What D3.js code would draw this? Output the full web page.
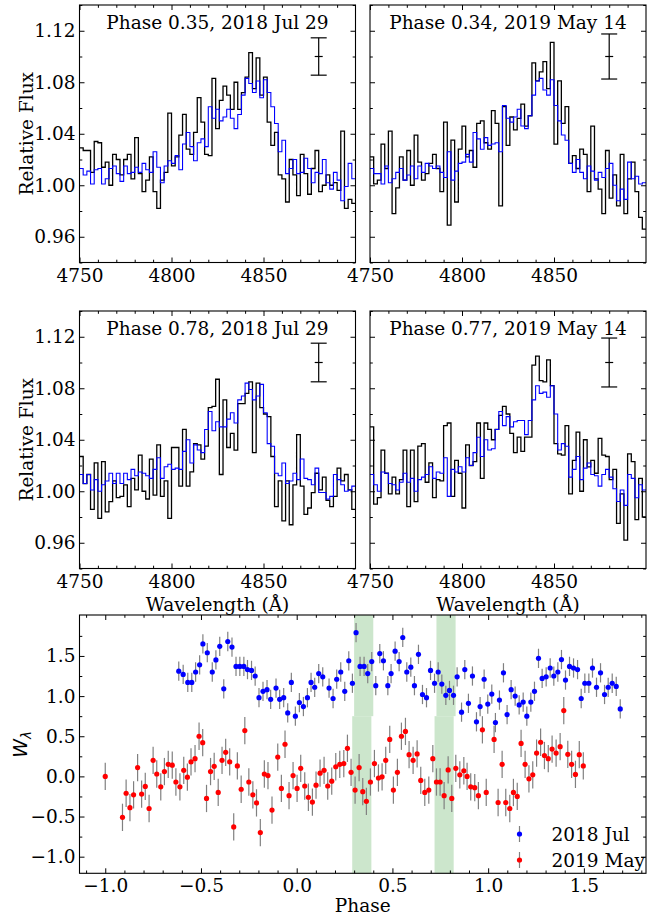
<!DOCTYPE html>
<html>
<head>
<meta charset="utf-8">
<script src="https://cdn.jsdelivr.net/npm/d3@7"></script>
<style>
  body { margin: 0; background: #fff; }
  svg { display: block; }
  svg text { font-family: "DejaVu Serif", serif !important; fill: #000; }
  svg text.math { font-family: "DejaVu Sans", sans-serif !important; font-style: italic; }
</style>
</head>
<body>
<svg id="chart" width="665" height="916"></svg>
<script>
// spectra: 2 A bins starting at 4750 A
const waveStart = 4750;
const waveStep = 2;

// Phase 0.35, 2018 Jul 29
const obsJul35 = [1.029,1.027,1.027,1.010,1.034,1.033,1.014,1.018,1.000,1.024,
  1.020,1.008,1.020,1.024,1.005,1.037,1.009,0.995,1.004,1.022,
  0.995,0.982,1.004,1.010,1.056,1.015,1.022,1.039,1.055,1.028,
  1.024,1.041,1.068,1.049,1.024,1.023,1.083,1.044,1.066,1.077,
  1.070,1.059,1.080,1.059,1.072,1.084,1.103,1.075,1.099,1.070,
  1.084,1.049,1.031,1.041,1.008,1.005,0.987,1.020,1.008,0.992,
  1.024,1.009,0.993,1.013,1.027,0.995,1.000,1.008,1.000,1.002,
  0.996,1.042,0.982,0.989,0.986];
const modelJul35 = [1.013,1.008,1.011,1.001,1.012,1.013,1.001,1.005,1.013,1.015,
  1.009,1.003,1.015,1.009,1.010,1.014,1.010,1.017,1.012,1.010,
  1.026,1.014,1.002,1.015,1.019,1.017,1.023,1.012,1.032,1.041,
  1.030,1.019,1.033,1.036,1.030,1.061,1.052,1.059,1.050,1.053,
  1.059,1.052,1.044,1.055,1.070,1.083,1.079,1.072,1.081,1.068,
  1.082,1.072,1.061,1.048,1.026,1.035,1.009,1.013,1.020,1.009,
  1.010,1.021,1.013,1.002,1.010,1.009,1.020,1.002,0.997,1.010,
  1.004,0.988,0.999,1.017,1.005];

// Phase 0.34, 2019 May 14
const obsMay34 = [1.022,1.001,1.004,1.032,1.013,1.042,0.978,0.998,1.022,1.004,
  1.027,1.000,1.039,1.018,1.004,1.009,1.017,1.024,1.013,0.995,
  1.049,0.969,1.035,0.987,1.028,1.046,1.022,1.027,1.014,1.048,
  1.050,1.033,1.028,1.058,1.048,0.984,1.061,1.031,1.053,1.043,
  1.052,1.063,1.046,1.054,1.095,1.081,1.088,1.096,1.075,1.111,
  1.032,1.081,1.048,1.061,1.017,1.023,1.013,1.028,1.024,0.995,
  1.046,1.005,0.997,0.978,1.027,0.990,1.008,0.984,1.024,0.978,
  1.005,1.018,0.995,0.975,0.966];
const modelMay34 = [1.013,1.009,1.009,1.001,1.015,1.002,1.005,1.010,1.013,1.004,
  1.008,1.015,1.005,1.015,1.010,1.017,1.015,1.013,1.015,1.010,
  1.006,1.026,1.004,1.011,1.017,1.018,1.024,1.018,1.041,1.036,
  1.028,1.037,1.031,1.032,1.033,1.026,1.062,1.052,1.049,1.053,
  1.059,1.046,1.044,1.054,1.070,1.081,1.083,1.074,1.070,1.082,
  1.062,1.050,1.039,1.035,1.017,1.010,1.020,1.010,1.005,1.015,
  1.011,1.004,1.010,1.006,1.013,1.017,1.000,0.988,0.997,0.989,
  1.018,1.005,1.007,1.001,1.002];

// Phase 0.78, 2018 Jul 29
const obsJul78 = [1.027,1.006,1.013,0.986,1.022,0.979,1.023,0.984,0.992,1.008,
  0.995,0.996,1.005,0.988,1.010,1.001,1.028,1.000,0.994,1.025,
  0.997,1.036,0.996,1.008,0.979,1.034,1.034,1.004,1.048,1.004,
  1.015,1.037,1.036,1.025,1.035,1.065,1.066,1.087,1.013,1.071,
  1.034,1.045,1.032,1.068,1.068,1.076,1.085,1.030,1.084,1.065,
  1.060,1.058,1.027,0.988,1.008,0.977,1.008,0.974,1.005,1.044,
  1.004,0.982,0.987,0.999,1.014,1.001,1.011,0.993,0.988,0.996,
  1.018,1.008,1.013,1.001,0.986];
const modelJul78 = [1.013,1.006,1.013,1.001,1.009,1.000,1.005,1.008,1.014,1.006,
  1.014,1.006,1.014,1.009,1.017,1.012,1.015,1.014,1.012,1.010,
  1.017,1.026,1.010,1.019,1.021,1.017,1.018,1.017,1.031,1.040,
  1.022,1.036,1.032,1.030,1.048,1.062,1.047,1.054,1.050,1.050,
  1.056,1.061,1.053,1.071,1.074,1.084,1.079,1.071,1.074,1.083,
  1.061,1.037,1.035,1.014,1.012,1.022,1.006,1.008,1.014,1.009,
  1.025,1.010,1.009,1.005,1.018,0.999,0.999,0.994,0.996,1.013,
  1.009,1.005,1.000,1.001,1.004];

// Phase 0.77, 2019 May 14
const obsMay77 = [1.050,0.990,0.995,1.032,1.014,0.998,1.011,0.998,1.009,1.032,
  0.988,1.032,0.992,1.035,1.037,1.007,1.022,0.995,1.009,1.008,
  1.051,1.053,0.996,1.024,1.014,0.987,1.036,1.020,1.023,1.053,
  1.010,1.053,1.048,1.040,1.048,1.059,1.066,1.060,1.045,1.030,
  1.042,1.031,1.042,1.042,1.098,1.105,1.086,1.085,1.102,1.082,
  1.037,1.029,1.028,1.051,0.998,1.024,1.046,1.000,1.040,1.019,
  1.024,1.014,1.041,1.028,1.027,1.009,1.017,0.975,0.998,0.962,
  1.029,1.023,0.978,1.010,0.980];
const modelMay77 = [1.013,1.005,1.000,1.015,1.014,1.006,1.005,1.001,1.007,1.014,
  1.007,1.010,1.000,1.009,1.011,1.013,1.019,1.010,1.015,1.014,
  1.026,0.996,1.017,1.015,1.019,1.015,1.026,1.020,1.030,1.042,
  1.027,1.040,1.032,1.033,1.048,1.062,1.051,1.058,1.050,1.054,
  1.055,1.055,1.044,1.055,1.071,1.082,1.076,1.077,1.073,1.082,
  1.060,1.032,1.037,1.035,1.011,1.017,1.027,1.009,1.018,1.022,
  1.013,1.012,1.004,1.013,1.017,1.011,1.002,0.992,1.001,0.989,
  1.013,1.010,0.995,1.005,1.001];

const panelTitles = ["Phase 0.35, 2018 Jul 29", "Phase 0.34, 2019 May 14",
                     "Phase 0.78, 2018 Jul 29", "Phase 0.77, 2019 May 14"];
const noiseBar = [0.0145, 0.0175, 0.015, 0.019];   // typical flux error, drawn at 4880 A
const noiseBarWave = 4880;
const noiseBarFlux = 1.10;

const waveTicks = [4750, 4800, 4850];
const fluxTicks = [0.96, 1.00, 1.04, 1.08, 1.12];

// equivalent widths vs phase
const phaseJul = [-0.616,-0.593,-0.569,-0.548,-0.528,-0.507,-0.490,-0.467,-0.441,-0.422,
  -0.402,-0.381,-0.360,-0.338,-0.317,-0.297,-0.276,-0.257,-0.236,-0.217,
  -0.197,-0.176,-0.155,-0.136,-0.108,-0.089,-0.068,-0.047,-0.028,-0.007,
  0.014,0.035,0.056,0.075,0.094,0.115,0.136,0.169,0.190,0.209,
  0.230,0.251,0.272,0.291,0.310,0.331,0.352,0.371,0.392,0.413,
  0.434,0.453,0.476,0.493,0.514,0.535,0.554,0.575,0.596,0.615,
  0.636,0.657,0.678,0.699,0.720,0.739,0.758,0.779,0.798,0.819,
  0.838,0.861,0.878,0.897,0.918,0.939,0.958,0.979,0.998,1.019,
  1.038,1.059,1.080,1.099,1.120,1.141,1.162,1.183,1.202,1.223,
  1.242,1.263,1.282,1.303,1.324,1.343,1.364,1.383,1.404,1.425,
  1.446,1.467,1.486,1.505,1.526,1.545,1.566,1.587,1.608,1.627,
  1.648,1.669,1.690];
const ewJul = [1.31,1.27,1.17,1.17,1.30,1.39,1.65,1.54,1.30,1.45,
  1.62,1.09,1.68,1.61,1.37,1.37,1.37,1.33,1.32,1.25,
  0.98,1.06,1.08,0.96,1.10,0.96,0.98,0.79,1.17,0.75,
  0.92,0.87,0.98,1.17,1.11,1.28,1.24,1.10,0.97,1.21,
  1.30,1.06,1.44,1.16,1.79,1.37,1.37,1.28,1.43,1.13,
  1.53,1.44,1.13,1.28,1.56,1.43,1.73,1.30,1.36,1.13,
  1.52,1.02,0.98,1.32,1.16,1.30,1.15,1.01,1.07,1.01,
  1.24,0.80,1.33,0.91,1.25,0.68,0.87,1.21,0.90,1.025,
  0.67,0.95,1.29,0.77,1.08,1.00,0.89,0.925,0.75,0.925,
  1.06,1.47,1.22,1.24,1.35,1.25,1.30,1.455,1.20,1.37,
  1.35,1.33,0.97,1.16,1.16,1.35,1.11,1.29,1.02,1.11,
  1.16,1.12,0.84];
const phaseMay = [-1.000,-0.910,-0.891,-0.871,-0.852,-0.831,-0.810,-0.791,-0.771,-0.750,
  -0.731,-0.710,-0.691,-0.671,-0.650,-0.631,-0.610,-0.590,-0.571,-0.552,
  -0.531,-0.510,-0.491,-0.471,-0.450,-0.431,-0.410,-0.390,-0.371,-0.350,
  -0.329,-0.310,-0.290,-0.271,-0.250,-0.229,-0.210,-0.190,-0.169,-0.150,
  -0.129,-0.099,-0.080,-0.061,-0.040,-0.019,0.002,0.021,0.042,0.061,
  0.082,0.101,0.122,0.143,0.162,0.183,0.204,0.225,0.246,0.265,
  0.284,0.305,0.326,0.345,0.364,0.385,0.406,0.427,0.446,0.465,
  0.486,0.505,0.526,0.547,0.568,0.587,0.608,0.629,0.648,0.669,
  0.690,0.711,0.730,0.749,0.770,0.791,0.810,0.831,0.852,0.873,
  0.890,0.909,0.930,0.949,0.970,0.990,1.031,1.052,1.073,1.092,
  1.113,1.132,1.152,1.172,1.193,1.213,1.233,1.253,1.274,1.294,
  1.314,1.334,1.355,1.376,1.395,1.416,1.436,1.456,1.476,1.497];
const ewMay = [0.00,-0.51,-0.21,-0.39,-0.23,0.11,-0.22,-0.125,-0.40,0.20,
  0.03,-0.13,0.06,0.15,0.14,-0.07,-0.13,0.075,-0.01,0.18,
  0.22,0.50,0.42,-0.275,0.06,0.125,-0.20,0.20,0.30,0.18,
  -0.63,0.13,-0.16,0.57,-0.07,-0.23,-0.33,-0.70,0.03,0.01,
  -0.42,0.24,-0.15,0.40,-0.24,0.01,-0.15,0.10,-0.12,-0.26,
  -0.32,-0.11,0.04,0.075,-0.12,-0.06,0.12,0.15,0.16,0.35,
  0.05,-0.17,0.11,-0.19,-0.31,-0.07,0.16,-0.02,-0.005,0.20,
  0.46,-0.17,0.05,0.50,0.56,0.27,0.20,0.28,-0.05,-0.20,
  -0.17,0.22,-0.07,-0.07,-0.24,0.08,-0.275,0.10,0.02,0.07,
  0.00,-0.13,-0.14,-0.24,0.58,-0.20,0.46,-0.325,0.15,-0.325,
  -0.40,-0.20,-0.25,0.41,0.15,-0.03,0.02,0.29,0.425,0.26,
  0.22,0.34,0.29,0.37,0.82,0.275,0.15,0.025,0.27,0.13];
const ewErrJul = 0.12;
const ewErrMay = 0.17;

const phaseTicks = [-1.0, -0.5, 0.0, 0.5, 1.0, 1.5];
const ewTicks = [-1.0, -0.5, 0.0, 0.5, 1.0, 1.5];
const bandsJul = [0.35, 0.78];   // phases of the 2018 spectra shown above
const bandsMay = [0.34, 0.77];   // phases of the 2019 spectra shown above
const bandHalfWidth = 0.05;
const bandSplit = 0.75;
const legendLabels = ["2018 Jul", "2019 May"];

const svg = d3.select("#chart");
const FS = "18.5px";

// inward ticks on all four sides, labels only bottom/left
function drawFrame(g, x, y, w, h, o) {
  const sides = [
    { axis: d3.axisBottom, s: x, pos: `translate(0,${h})`, maj: o.xMajor, min: o.xMinor, fmt: o.xFmt, pad: 6 },
    { axis: d3.axisTop, s: x, pos: null, maj: o.xMajor, min: o.xMinor, fmt: null, pad: 6 },
    { axis: d3.axisLeft, s: y, pos: null, maj: o.yMajor, min: o.yMinor, fmt: o.yFmt, pad: 4 },
    { axis: d3.axisRight, s: y, pos: `translate(${w},0)`, maj: o.yMajor, min: o.yMinor, fmt: null, pad: 4 }
  ];
  sides.forEach(sd => {
    const gm = g.append("g").attr("transform", sd.pos)
      .call(sd.axis(sd.s).tickValues(sd.min).tickSize(-2.8).tickFormat(""));
    gm.select(".domain").remove();
    const ga = g.append("g").attr("transform", sd.pos)
      .call(sd.axis(sd.s).tickValues(sd.maj).tickSize(-5).tickPadding(sd.pad)
        .tickFormat(sd.fmt ? sd.fmt : ""));
    ga.select(".domain").remove();
    ga.attr("font-family", null).attr("font-size", null);
    ga.selectAll("text").style("font-size", FS).style("font-family", "'DejaVu Serif', serif");
  });
  g.selectAll(".tick line").attr("stroke", "#000").attr("stroke-width", 1);
  g.append("rect").attr("width", w).attr("height", h)
    .attr("fill", "none").attr("stroke", "#000").attr("stroke-width", 1.1);
}

// spectra panels
const specW = 276, specH = 257.5;
const panels = [
  { obs: obsJul35, model: modelJul35, x0: 79.5, y0: 5, left: true, bottom: false },
  { obs: obsMay34, model: modelMay34, x0: 370, y0: 5, left: false, bottom: false },
  { obs: obsJul78, model: modelJul78, x0: 79.5, y0: 311, left: true, bottom: true },
  { obs: obsMay77, model: modelMay77, x0: 370, y0: 311, left: false, bottom: true }
];

const xW = d3.scaleLinear().domain([4750, 4900]).range([0, specW]);
const yF = d3.scaleLinear().domain([0.94, 1.14]).range([specH, 0]);
const stepLine = d3.line().x(d => xW(d[0])).y(d => yF(d[1])).curve(d3.curveStepAfter);

function stepPoints(vals) {
  const pts = vals.map((v, i) => [waveStart + i * waveStep, v]);
  pts.push([waveStart + vals.length * waveStep, vals[vals.length - 1]]);
  return pts;
}

svg.append("defs").append("clipPath").attr("id", "specclip")
  .append("rect").attr("width", specW).attr("height", specH);

panels.forEach((p, i) => {
  const g = svg.append("g").attr("transform", `translate(${p.x0},${p.y0})`);
  const lines = g.append("g").attr("clip-path", "url(#specclip)");
  lines.append("path").attr("d", stepLine(stepPoints(p.obs)))
    .attr("fill", "none").attr("stroke", "#000").attr("stroke-width", 1.3);
  lines.append("path").attr("d", stepLine(stepPoints(p.model)))
    .attr("fill", "none").attr("stroke", "#0000ff").attr("stroke-width", 1.1);

  drawFrame(g, xW, yF, specW, specH, {
    xMajor: waveTicks, xMinor: d3.range(4760, 4900, 10).filter(v => v % 50 !== 0),
    yMajor: fluxTicks, yMinor: [0.94, 0.98, 1.02, 1.06, 1.10, 1.14],
    xFmt: d3.format("d"), yFmt: p.left ? d3.format(".2f") : null
  });

  g.append("text").attr("x", specW / 2).attr("y", 24).attr("text-anchor", "middle")
    .style("font-size", FS).text(panelTitles[i]);

  // typical error bar
  const ex = xW(noiseBarWave);
  const eb = g.append("g").attr("stroke", "#000").attr("stroke-width", 1.2);
  eb.append("line").attr("x1", ex).attr("x2", ex)
    .attr("y1", yF(noiseBarFlux - noiseBar[i])).attr("y2", yF(noiseBarFlux + noiseBar[i]));
  [noiseBarFlux - noiseBar[i], noiseBarFlux + noiseBar[i]].forEach(v => {
    eb.append("line").attr("x1", ex - 8).attr("x2", ex + 8).attr("y1", yF(v)).attr("y2", yF(v));
  });
  eb.append("line").attr("x1", ex - 4).attr("x2", ex + 4)
    .attr("y1", yF(noiseBarFlux)).attr("y2", yF(noiseBarFlux));

  if (p.left) {
    g.append("text").attr("transform", `translate(${-47},${specH / 2}) rotate(-90)`)
      .attr("text-anchor", "middle").style("font-size", FS).text("Relative Flux");
  }
  if (p.bottom) {
    g.append("text").attr("x", specW / 2).attr("y", specH + 42).attr("text-anchor", "middle")
      .style("font-size", FS).text("Wavelength (\u00c5)");
  }
});

// equivalent width panel
const bx0 = 79.5, by0 = 615, bw = 566.5, bh = 258.3;
const xP = d3.scaleLinear().domain([-1.1345, 1.8245]).range([0, bw]);
const yE = d3.scaleLinear().domain([-1.207, 2.01]).range([bh, 0]);
const gb = svg.append("g").attr("transform", `translate(${bx0},${by0})`);

const bandFill = "#cce6cc";
bandsJul.forEach(c => {
  gb.append("rect").attr("x", xP(c - bandHalfWidth)).attr("width", xP(c + bandHalfWidth) - xP(c - bandHalfWidth))
    .attr("y", 0).attr("height", yE(bandSplit)).attr("fill", bandFill);
});
bandsMay.forEach(c => {
  gb.append("rect").attr("x", xP(c - bandHalfWidth)).attr("width", xP(c + bandHalfWidth) - xP(c - bandHalfWidth))
    .attr("y", yE(bandSplit)).attr("height", bh - yE(bandSplit)).attr("fill", bandFill);
});

const series = [
  { ph: phaseJul, ew: ewJul, err: ewErrJul, color: "#0000ff" },
  { ph: phaseMay, ew: ewMay, err: ewErrMay, color: "#ff0000" }
];
series.forEach(s => {
  const pts = s.ph.map((p, i) => ({ p: p, w: s.ew[i] }));
  gb.append("g").selectAll("line").data(pts).join("line")
    .attr("x1", d => xP(d.p)).attr("x2", d => xP(d.p))
    .attr("y1", d => yE(d.w - s.err)).attr("y2", d => yE(d.w + s.err))
    .attr("stroke", "#808080").attr("stroke-width", 1.2);
});
series.forEach(s => {
  const pts = s.ph.map((p, i) => ({ p: p, w: s.ew[i] }));
  gb.append("g").selectAll("circle").data(pts).join("circle")
    .attr("cx", d => xP(d.p)).attr("cy", d => yE(d.w)).attr("r", 2.6)
    .attr("fill", s.color);
});

drawFrame(gb, xP, yE, bw, bh, {
  xMajor: phaseTicks,
  xMinor: d3.range(-11, 19).map(v => v / 10).filter(v => Math.abs(v * 2 - Math.round(v * 2)) > 0.01),
  yMajor: ewTicks,
  yMinor: [-0.75, -0.25, 0.25, 0.75, 1.25, 1.75],
  xFmt: d3.format(".1f"), yFmt: d3.format(".1f")
});

gb.append("text").attr("x", bw / 2).attr("y", bh + 39).attr("text-anchor", "middle")
  .style("font-size", FS).text("Phase");

const wl = gb.append("text").attr("class", "math")
  .attr("transform", `translate(${-53},${yE(0.4)}) rotate(-90)`)
  .attr("text-anchor", "middle");
wl.append("tspan").style("font-size", "19px").text("W");
wl.append("tspan").style("font-size", "13.5px").attr("dy", "4").text("\u03bb");

// legend
series.forEach((s, i) => {
  const ly = 219 + i * 26;
  gb.append("line").attr("x1", 440).attr("x2", 440).attr("y1", ly - 8).attr("y2", ly + 8)
    .attr("stroke", "#808080").attr("stroke-width", 1.2);
  gb.append("circle").attr("cx", 440).attr("cy", ly).attr("r", 2.6).attr("fill", s.color);
  gb.append("text").attr("x", 472).attr("y", ly + 6.5).style("font-size", FS).text(legendLabels[i]);
});
</script>
</body>
</html>
